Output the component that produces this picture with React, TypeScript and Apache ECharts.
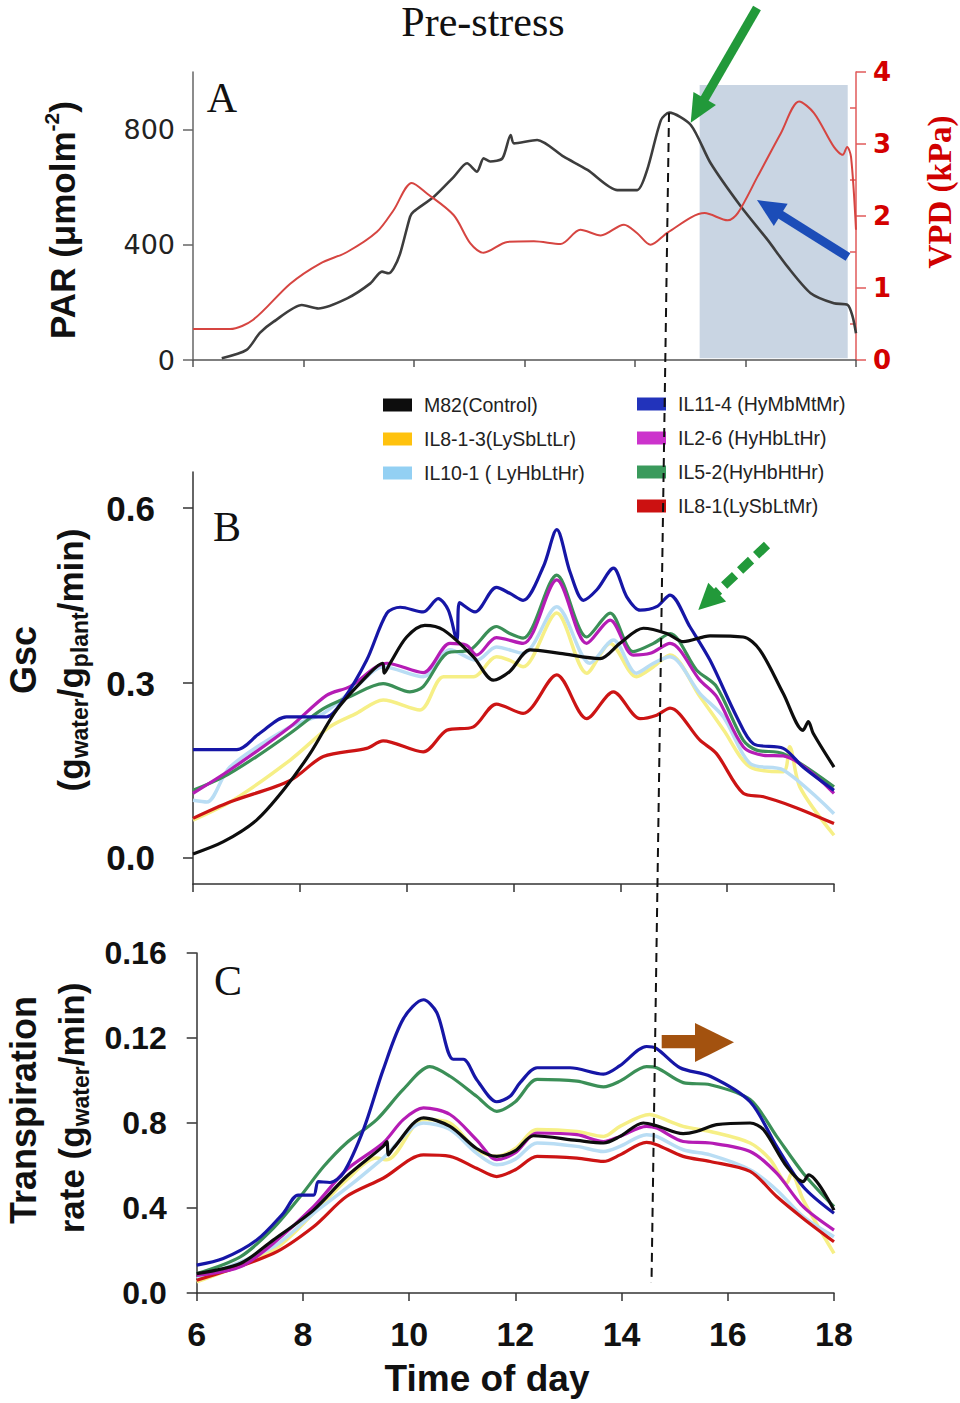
import React, { useEffect, useRef } from "react";
import * as echarts from "echarts";

// ---------- data ----------
const TITLE = "Pre-stress";
const X_MIN = 6;
const X_MAX = 18;
const PAR_TICKS = [0, 400, 800];
const VPD_MINOR = [0.5, 1.5, 2.5, 3.5];
const GSC_TICKS = [0, 0.3, 0.6];
const TR_TICKS = [0, 0.04, 0.08, 0.12, 0.16];
const TR_TICK_LABELS = ["0.0", "0.4", "0.8", "0.12", "0.16"];
const SHADE_X = [15.17, 17.85];
const SHADE_Y = [6, 955];

const PAR = [
  [6.52, 6], [6.97, 35], [7.21, 94], [7.46, 133], [7.97, 191], [8.27, 179], [8.79, 214], [9.21, 266],
  [9.42, 307], [9.54, 301], [9.63, 318], [9.75, 370], [9.93, 498], [9.99, 515], [10.36, 567], [10.72, 636],
  [10.96, 683], [11.14, 654], [11.26, 700], [11.38, 689], [11.6, 700], [11.75, 781], [11.81, 752], [12.23, 764],
  [12.71, 706], [13.14, 660], [13.68, 590], [14.04, 590], [14.22, 660], [14.47, 833], [14.62, 859], [15.01, 816],
  [15.37, 683], [15.92, 532], [16.4, 417], [16.76, 324], [17.18, 232], [17.6, 197], [17.85, 191], [17.94, 150], [18, 93],
];
const VPD = [
  [6, 0.43], [6.67, 0.43], [7.09, 0.56], [7.76, 1.06], [8.3, 1.34], [8.79, 1.5], [9.33, 1.78], [9.63, 2.08],
  [9.96, 2.46], [10.24, 2.31], [10.72, 2.01], [11.02, 1.62], [11.26, 1.49], [11.69, 1.64], [12.17, 1.65],
  [12.65, 1.61], [13.01, 1.81], [13.38, 1.73], [13.8, 1.88], [14.04, 1.76], [14.28, 1.6], [14.59, 1.77],
  [15.26, 2.04], [15.68, 1.94], [15.86, 2.04], [16.22, 2.55], [16.64, 3.15], [16.97, 3.59], [17.24, 3.43],
  [17.6, 2.96], [17.76, 2.85], [17.84, 2.96], [17.91, 2.82], [18, 1.81],
];

const NAMES = [
  "M82(Control)",
  "IL8-1-3(LySbLtLr)",
  "IL10-1 ( LyHbLtHr)",
  "IL11-4 (HyMbMtMr)",
  "IL2-6 (HyHbLtHr)",
  "IL5-2(HyHbHtHr)",
  "IL8-1(LySbLtMr)",
];
const LINE_COLORS = ["#0d0d0d", "#f6ef86", "#b9ddf4", "#1616a6", "#b51cb5", "#3b8f57", "#cc1414"];
const LEGEND_COLORS = ["#0d0d0d", "#ffc20e", "#93d0f3", "#2233bb", "#cc33cc", "#3a9a5c", "#cc1111"];

// Panel B: Gsc
const GSC_M82 = [
  [6, 0.007], [6.57, 0.028], [7.19, 0.065], [7.69, 0.116], [8.19, 0.179], [8.69, 0.254], [9.31, 0.317],
  [9.55, 0.334], [9.58, 0.317], [9.69, 0.334], [10.0, 0.379], [10.34, 0.399], [10.69, 0.391], [11.25, 0.345],
  [11.62, 0.305], [11.93, 0.32], [12.31, 0.357], [12.87, 0.351], [13.62, 0.342], [13.99, 0.368], [14.43, 0.394],
  [14.87, 0.385], [15.18, 0.371], [15.68, 0.381], [16.3, 0.379], [16.61, 0.357], [17.05, 0.282], [17.42, 0.219],
  [17.52, 0.234], [17.61, 0.214], [18, 0.156],
];
const GSC_IL813 = [
  [6, 0.065], [6.75, 0.099], [7.82, 0.168], [8.56, 0.225], [9.06, 0.248], [9.56, 0.271], [10.25, 0.254],
  [10.69, 0.311], [11.25, 0.311], [11.68, 0.345], [11.93, 0.339], [12.18, 0.328], [12.81, 0.42], [13.37, 0.317],
  [13.81, 0.368], [14.3, 0.311], [14.62, 0.328], [14.93, 0.348], [15.49, 0.277], [15.93, 0.22], [16.43, 0.156],
  [17.05, 0.148], [17.17, 0.191], [17.36, 0.122], [18, 0.039],
];
const GSC_IL101 = [
  [6, 0.099], [6.26, 0.096], [6.69, 0.156], [7.82, 0.225], [8.44, 0.248], [9.06, 0.294], [9.56, 0.328],
  [10.31, 0.311], [10.81, 0.357], [11.31, 0.339], [11.68, 0.362], [12.18, 0.351], [12.81, 0.431], [13.43, 0.334],
  [13.87, 0.374], [14.3, 0.317], [14.62, 0.334], [14.93, 0.345], [15.49, 0.282], [15.93, 0.242], [16.43, 0.162],
  [17.05, 0.151], [18, 0.076],
];
const GSC_IL114 = [
  [6, 0.186], [6.82, 0.186], [7.25, 0.214], [7.75, 0.242], [8.5, 0.242], [8.81, 0.271], [9.25, 0.339],
  [9.63, 0.42], [9.88, 0.43], [10.31, 0.422], [10.59, 0.445], [10.78, 0.425], [10.94, 0.374], [10.99, 0.438],
  [11.28, 0.422], [11.68, 0.464], [11.93, 0.454], [12.18, 0.442], [12.56, 0.5], [12.81, 0.563], [13.06, 0.49],
  [13.31, 0.442], [13.56, 0.46], [13.87, 0.497], [14.12, 0.448], [14.37, 0.425], [14.68, 0.431], [14.93, 0.451],
  [15.3, 0.397], [15.68, 0.339], [16.18, 0.242], [16.49, 0.196], [17.05, 0.188], [17.42, 0.156], [18, 0.116],
];
const GSC_IL26 = [
  [6, 0.111], [6.69, 0.151], [7.82, 0.225], [8.5, 0.279], [8.94, 0.294], [9.63, 0.334], [10.31, 0.318],
  [10.81, 0.368], [11.12, 0.365], [11.31, 0.348], [11.68, 0.378], [12.18, 0.368], [12.81, 0.477], [13.37, 0.368],
  [13.81, 0.408], [14.24, 0.348], [14.56, 0.351], [14.93, 0.368], [15.49, 0.305], [15.8, 0.277], [16.3, 0.191],
  [16.68, 0.176], [17.05, 0.175], [18, 0.111],
];
const GSC_IL52 = [
  [6, 0.116], [6.57, 0.139], [7.19, 0.174], [7.82, 0.214], [8.44, 0.256], [8.94, 0.277], [9.56, 0.299],
  [10.06, 0.285], [10.31, 0.294], [10.75, 0.351], [11.19, 0.357], [11.68, 0.397], [11.93, 0.385], [12.18, 0.377],
  [12.81, 0.485], [13.37, 0.379], [13.81, 0.42], [14.24, 0.354], [14.62, 0.368], [14.93, 0.385], [15.43, 0.322],
  [15.8, 0.294], [16.3, 0.202], [16.55, 0.185], [17.05, 0.179], [18, 0.122],
];
const GSC_IL81 = [
  [6, 0.068], [6.69, 0.096], [7.82, 0.133], [8.44, 0.174], [9.25, 0.188], [9.56, 0.201], [10.31, 0.182],
  [10.75, 0.219], [11.25, 0.225], [11.68, 0.264], [12.18, 0.248], [12.81, 0.314], [13.37, 0.239], [13.87, 0.285],
  [14.37, 0.239], [14.68, 0.245], [14.93, 0.257], [15.49, 0.202], [15.8, 0.179], [16.3, 0.111], [16.68, 0.105],
  [17.24, 0.088], [18, 0.059],
];

// Panel C: transpiration rate
const TR_M82 = [
  [6, 0.0091], [6.82, 0.0139], [7.44, 0.0249], [8.2, 0.039], [8.82, 0.0548], [9.51, 0.069], [9.58, 0.0713],
  [9.61, 0.065], [9.7, 0.068], [10.27, 0.0824], [10.77, 0.0784], [11.27, 0.068], [11.65, 0.0643], [12.0, 0.067],
  [12.34, 0.074], [13.16, 0.0718], [13.66, 0.0706], [13.97, 0.0737], [14.41, 0.08], [14.66, 0.0787], [15.16, 0.075],
  [15.41, 0.076], [15.79, 0.0792], [16.42, 0.08], [16.67, 0.0769], [17.11, 0.0595], [17.42, 0.0524],
  [17.52, 0.0556], [18, 0.039],
];
const TR_IL813 = [
  [6, 0.0052], [7.44, 0.0202], [8.2, 0.0375], [8.82, 0.0532], [9.39, 0.0635], [9.58, 0.0627], [10.27, 0.0816],
  [10.77, 0.08], [11.27, 0.0674], [11.65, 0.0643], [12.0, 0.068], [12.41, 0.0769], [13.16, 0.076], [13.66, 0.0737],
  [13.97, 0.0784], [14.53, 0.084], [14.66, 0.0832], [15.16, 0.0784], [15.67, 0.076], [16.42, 0.0706], [16.8, 0.0627],
  [17.11, 0.0517], [17.2, 0.0564], [17.42, 0.0438], [18, 0.0186],
];
const TR_IL101 = [
  [6, 0.0068], [7.44, 0.0217], [8.2, 0.0375], [8.82, 0.0493], [9.51, 0.0635], [10.27, 0.08], [10.77, 0.0769],
  [11.27, 0.0658], [11.65, 0.0603], [12.0, 0.063], [12.41, 0.0706], [13.16, 0.069], [13.66, 0.0666], [13.97, 0.069],
  [14.47, 0.0745], [14.66, 0.0737], [15.16, 0.0674], [15.67, 0.065], [16.42, 0.058], [16.92, 0.0485],
  [17.42, 0.0359], [18, 0.0265],
];
const TR_IL114 = [
  [6, 0.0131], [6.5, 0.0162], [7.13, 0.0249], [7.63, 0.0375], [7.91, 0.0461], [8.2, 0.0461], [8.29, 0.0524],
  [8.51, 0.052], [8.76, 0.0564], [9.14, 0.0769], [9.51, 0.105], [9.89, 0.129], [10.27, 0.138], [10.52, 0.132],
  [10.83, 0.11], [11.02, 0.11], [11.27, 0.1005], [11.65, 0.09], [11.9, 0.0926], [12.09, 0.099], [12.41, 0.106],
  [13.03, 0.106], [13.66, 0.103], [13.97, 0.107], [14.47, 0.116], [14.66, 0.115], [15.1, 0.106], [15.67, 0.102],
  [16.42, 0.09], [16.92, 0.069], [17.42, 0.05], [18, 0.0375],
];
const TR_IL26 = [
  [6, 0.0083], [6.82, 0.0123], [7.44, 0.0233], [8.2, 0.0406], [8.82, 0.058], [9.51, 0.0706], [9.89, 0.0816],
  [10.27, 0.0871], [10.77, 0.084], [11.27, 0.0721], [11.65, 0.0627], [12.0, 0.066], [12.41, 0.0753], [13.16, 0.0745],
  [13.66, 0.0713], [13.97, 0.0737], [14.47, 0.0784], [14.66, 0.0776], [15.16, 0.0713], [15.67, 0.0706],
  [16.42, 0.0666], [16.92, 0.0564], [17.42, 0.0406], [18, 0.0296],
];
const TR_IL52 = [
  [6, 0.0091], [6.82, 0.017], [7.44, 0.0304], [7.95, 0.0454], [8.39, 0.0595], [8.82, 0.0706], [9.39, 0.0816],
  [9.89, 0.0958], [10.39, 0.1065], [10.77, 0.102], [11.27, 0.0926], [11.65, 0.0855], [12.0, 0.09], [12.41, 0.1005],
  [13.16, 0.0997], [13.66, 0.097], [13.97, 0.0997], [14.47, 0.1065], [14.66, 0.106], [15.16, 0.099], [15.67, 0.098],
  [16.42, 0.091], [16.92, 0.0737], [17.42, 0.0564], [18, 0.0406],
];
const TR_IL81 = [
  [6, 0.006], [7.44, 0.0186], [8.2, 0.0312], [8.82, 0.0454], [9.51, 0.054], [10.27, 0.065], [10.77, 0.0643],
  [11.27, 0.0587], [11.65, 0.0548], [12.0, 0.058], [12.41, 0.0643], [13.16, 0.0635], [13.66, 0.0619], [13.97, 0.065],
  [14.47, 0.0709], [14.66, 0.0698], [15.16, 0.0643], [15.67, 0.0619], [16.42, 0.0572], [16.92, 0.0454],
  [17.42, 0.0351], [18, 0.0241],
];

const GSC_SERIES = [GSC_M82, GSC_IL813, GSC_IL101, GSC_IL114, GSC_IL26, GSC_IL52, GSC_IL81];
const TR_SERIES = [TR_M82, TR_IL813, TR_IL101, TR_IL114, TR_IL26, TR_IL52, TR_IL81];
const DRAW_ORDER = [1, 2, 6, 5, 4, 3, 0];

// ---------- helpers ----------
const SANS = "Liberation Sans";
const SERIF = "Liberation Serif";

function arrow(tail: number[], tip: number[], headLen: number, headHalf: number, width: number, color: string, dash?: number[]) {
  const dx = tip[0] - tail[0];
  const dy = tip[1] - tail[1];
  const len = Math.sqrt(dx * dx + dy * dy);
  const ux = dx / len;
  const uy = dy / len;
  const bx = tip[0] - ux * headLen;
  const by = tip[1] - uy * headLen;
  const px = -uy;
  const py = ux;
  return [
    {
      type: "line",
      z: 100,
      silent: true,
      shape: { x1: tail[0], y1: tail[1], x2: bx + ux * 2, y2: by + uy * 2 },
      style: { stroke: color, lineWidth: width, lineDash: dash || null, lineCap: "butt" },
    },
    {
      type: "polygon",
      z: 100,
      silent: true,
      shape: { points: [[tip[0], tip[1]], [bx + px * headHalf, by + py * headHalf], [bx - px * headHalf, by - py * headHalf]] },
      style: { fill: color },
    },
  ];
}

function rotText(x: number, y: number, style: any) {
  return {
    type: "text",
    z: 100,
    silent: true,
    x,
    y,
    rotation: Math.PI / 2,
    style: { fill: "#111", align: "center", verticalAlign: "middle", ...style },
  };
}

function plainText(x: number, y: number, style: any) {
  return {
    type: "text",
    z: 100,
    silent: true,
    x,
    y,
    style: { fill: "#111", align: "center", verticalAlign: "middle", ...style },
  };
}

export default function App() {
  const ref = useRef<HTMLDivElement>(null);

  useEffect(() => {
    document.body.style.margin = "0";
    if (!ref.current) return;
    const chart = echarts.init(ref.current, undefined, { renderer: "svg" });

    const axisLineDark = { show: true, onZero: false, lineStyle: { color: "#333", width: 1.5 } };
    const tickDark = { show: true, length: 8, lineStyle: { color: "#333", width: 1.5 } };
    const boldLabel = (size: number, margin: number) => ({
      fontSize: size,
      fontWeight: "bold",
      fontFamily: SANS,
      color: "#111",
      margin,
    });

    const lineSeries: any[] = [];
    DRAW_ORDER.forEach((i) => {
      const width = i === 1 || i === 2 ? 3.5 : 3.2;
      lineSeries.push({
        type: "line",
        name: NAMES[i],
        xAxisIndex: 1,
        yAxisIndex: 2,
        data: GSC_SERIES[i],
        symbol: "none",
        smooth: 0.3,
        lineStyle: { color: LINE_COLORS[i], width },
        itemStyle: { color: LEGEND_COLORS[i] },
        emphasis: { disabled: true },
        z: 3,
      });
      lineSeries.push({
        type: "line",
        name: NAMES[i],
        xAxisIndex: 2,
        yAxisIndex: 3,
        data: TR_SERIES[i],
        symbol: "none",
        smooth: 0.3,
        lineStyle: { color: LINE_COLORS[i], width },
        itemStyle: { color: LEGEND_COLORS[i] },
        emphasis: { disabled: true },
        z: 3,
      });
    });

    const legendBase = {
      orient: "vertical",
      icon: "rect",
      padding: 0,
      itemWidth: 29,
      itemHeight: 13,
      itemGap: 14,
      selectedMode: false,
      itemStyle: { borderWidth: 0 },
      textStyle: { fontSize: 19.5, lineHeight: 20, color: "#222", fontFamily: SANS, padding: [0, 0, 0, 7] },
    };

    const subRich = {
      a: { fontSize: 35, fontWeight: "bold", fontFamily: SANS, lineHeight: 42 },
      s: { fontSize: 23, fontWeight: "bold", fontFamily: SANS, lineHeight: 14, verticalAlign: "bottom" },
    };

    const graphic: any[] = [
      plainText(483, 22, { text: TITLE, fontSize: 42, fontFamily: SERIF }),
      plainText(222, 98, { text: "A", fontSize: 42, fontFamily: SERIF }),
      plainText(227, 527, { text: "B", fontSize: 42, fontFamily: SERIF }),
      plainText(228, 981, { text: "C", fontSize: 42, fontFamily: SERIF }),
      rotText(62, 220, {
        text: "{a|PAR (μmolm}{s|-2}{a|)}",
        rich: {
          a: { fontSize: 35, fontWeight: "bold", fontFamily: SANS, lineHeight: 42 },
          s: { fontSize: 21, fontWeight: "bold", fontFamily: SANS, lineHeight: 18, verticalAlign: "top" },
        },
      }),
      rotText(940, 192, { text: "VPD (kPa)", fontSize: 33, fontWeight: "bold", fontFamily: SERIF, fill: "#d00000" }),
      rotText(23, 660, { text: "Gsc", fontSize: 36, fontWeight: "bold", fontFamily: SANS }),
      rotText(70, 660, { text: "{a|(g}{s|water}{a|/g}{s|plant}{a|/min)}", rich: subRich }),
      rotText(23, 1110, { text: "Transpiration", fontSize: 36, fontWeight: "bold", fontFamily: SANS }),
      rotText(71, 1108, { text: "{a|rate (g}{s|water}{a|/min)}", rich: subRich }),
      plainText(487, 1378, { text: "Time of day", fontSize: 37, fontWeight: "bold", fontFamily: SANS }),
      {
        type: "line", z: 100, silent: true,
        shape: { x1: 669, y1: 113, x2: 651.5, y2: 1283 },
        style: { stroke: "#111", lineWidth: 2, lineDash: [9, 6] },
      },
      ...arrow([757, 8], [690.7, 122.7], 28, 13, 9, "#22993a"),
      ...arrow([848, 257], [757, 200], 28, 13, 9, "#1c4db8"),
      ...arrow([767, 545], [698.3, 610], 26, 13, 9, "#22993a", [15, 7]),
      {
        type: "rect", z: 100, silent: true,
        shape: { x: 661.7, y: 1035, width: 34, height: 13.3 },
        style: { fill: "#a3520f" },
      },
      {
        type: "polygon", z: 100, silent: true,
        shape: { points: [[695, 1023], [695, 1062], [734, 1042.3]] },
        style: { fill: "#a3520f" },
      },
    ];

    const option: any = {
      animation: false,
      backgroundColor: "#fff",
      grid: [
        { left: 193, top: 72, width: 663, height: 288 },
        { left: 193, top: 472, width: 641, height: 412 },
        { left: 196.7, top: 953, width: 637.3, height: 340 },
        { left: 193, top: 72, width: 663, height: 288 },
      ],
      xAxis: [
        {
          gridIndex: 0, type: "value", min: X_MIN, max: X_MAX, interval: 2,
          axisLine: { show: true, onZero: false, lineStyle: { color: "#555", width: 1.5 } },
          axisTick: { show: true, length: 7, lineStyle: { color: "#555", width: 1.5 } },
          axisLabel: { show: false }, splitLine: { show: false },
        },
        {
          gridIndex: 1, type: "value", min: X_MIN, max: X_MAX, interval: 2,
          axisLine: axisLineDark, axisTick: tickDark, axisLabel: { show: false }, splitLine: { show: false },
        },
        {
          gridIndex: 2, type: "value", min: X_MIN, max: X_MAX, interval: 2,
          axisLine: axisLineDark, axisTick: tickDark, axisLabel: boldLabel(34, 24), splitLine: { show: false },
        },
        { gridIndex: 3, type: "value", min: X_MIN, max: X_MAX, show: false },
      ],
      yAxis: [
        {
          gridIndex: 0, type: "value", min: 0, max: 1000, position: "left",
          axisLine: { show: true, lineStyle: { color: "#666", width: 1.5 } },
          axisTick: { show: true, customValues: PAR_TICKS, length: 10, lineStyle: { color: "#666", width: 1.5 } },
          axisLabel: { customValues: PAR_TICKS, fontSize: 27, fontFamily: "DejaVu Sans", color: "#222", margin: 18 },
          splitLine: { show: false },
        },
        {
          gridIndex: 0, type: "value", min: 0, max: 4, interval: 1, position: "right",
          axisLine: { show: true, lineStyle: { color: "#e05a5a", width: 1.5 } },
          axisTick: { show: true, length: 10, lineStyle: { color: "#e05a5a", width: 1.5 } },
          axisLabel: { fontSize: 26, fontWeight: "bold", fontFamily: "DejaVu Sans", color: "#d40000", margin: 17 },
          splitLine: { show: false },
        },
        {
          gridIndex: 1, type: "value", min: -0.0446, max: 0.662,
          axisLine: axisLineDark,
          axisTick: { show: true, customValues: GSC_TICKS, length: 10, lineStyle: { color: "#333", width: 1.5 } },
          axisLabel: { ...boldLabel(35, 38), customValues: GSC_TICKS, formatter: (v: number) => v.toFixed(1) },
          splitLine: { show: false },
        },
        {
          gridIndex: 2, type: "value", min: 0, max: 0.16,
          axisLine: axisLineDark,
          axisTick: { show: true, customValues: TR_TICKS, length: 10, lineStyle: { color: "#333", width: 1.5 } },
          axisLabel: {
            ...boldLabel(32, 30),
            customValues: TR_TICKS,
            formatter: (v: number) => TR_TICK_LABELS[Math.round(v / 0.04)] ?? "",
          },
          splitLine: { show: false },
        },
        {
          gridIndex: 3, type: "value", min: 0, max: 4, position: "right",
          axisLine: { show: false },
          axisTick: { show: true, inside: true, customValues: VPD_MINOR, length: 6, lineStyle: { color: "#e05a5a", width: 1.5 } },
          axisLabel: { show: false },
          splitLine: { show: false },
        },
      ],
      legend: [
        {
          ...legendBase, left: 383, top: 395,
          data: [0, 1, 2].map((i) => ({ name: NAMES[i], itemStyle: { color: LEGEND_COLORS[i], borderWidth: 0 } })),
        },
        {
          ...legendBase, left: 637, top: 394,
          data: [3, 4, 5, 6].map((i) => ({ name: NAMES[i], itemStyle: { color: LEGEND_COLORS[i], borderWidth: 0 } })),
        },
      ],
      series: [
        {
          type: "line", name: "PAR", xAxisIndex: 0, yAxisIndex: 0, data: PAR, symbol: "none", smooth: 0.25,
          lineStyle: { color: "#3d3d3d", width: 2.6 }, emphasis: { disabled: true }, z: 2,
          markArea: {
            silent: true,
            itemStyle: { color: "#c9d5e3" },
            data: [[{ xAxis: SHADE_X[0], yAxis: SHADE_Y[0] }, { xAxis: SHADE_X[1], yAxis: SHADE_Y[1] }]],
          },
        },
        {
          type: "line", name: "VPD", xAxisIndex: 0, yAxisIndex: 1, data: VPD, symbol: "none", smooth: 0.3,
          lineStyle: { color: "#d64541", width: 2 }, emphasis: { disabled: true }, z: 3,
        },
        ...lineSeries,
      ],
      graphic,
    };

    chart.setOption(option);
    return () => chart.dispose();
  }, []);

  return (
    <div
      ref={ref}
      style={{ position: "absolute", left: 0, top: 0, width: 960, height: 1403, background: "#fff" }}
    />
  );
}
